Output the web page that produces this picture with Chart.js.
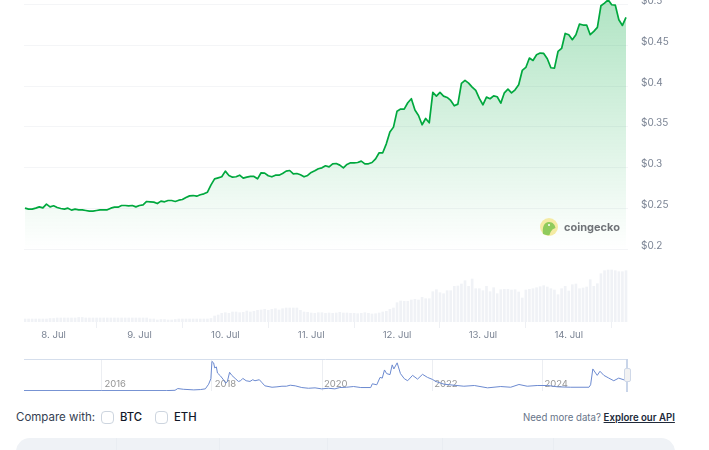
<!DOCTYPE html>
<html>
<head>
<meta charset="utf-8">
<script src="https://cdn.jsdelivr.net/npm/chart.js@4"></script>
<style>
html, body { margin: 0; padding: 0; background: #fff; }
body { width: 709px; height: 450px; overflow: hidden; position: relative; font-family: Inter, sans-serif; }
.box { position: absolute; }
#main-wrap { left: 0; top: -15px; width: 709px; height: 360px; }
#nav-wrap { left: 0; top: 355px; width: 709px; height: 40px; }
#logo { left: 540px; top: 218px; }
#logo-text { left: 564px; top: 219px; font-size: 11px; font-weight: 700; color: #6f7377; line-height: 16px; }
#nav-edge { left: 626px; top: 359px; width: 2px; height: 33px; background: #c9d5e9; }
#nav-handle { left: 624px; top: 368px; width: 5px; height: 12px; background: #f2f2f2; border: 1px solid #cfd8e8; border-radius: 2px; }
#compare { left: 16px; top: 410px; font-size: 11.5px; line-height: 15px; color: #364152; }
.check { top: 411px; width: 11px; height: 11px; border: 1px solid #cdd5df; border-radius: 4px; background: #fff; }
.coin { top: 410px; font-size: 11.3px; line-height: 15px; font-weight: 500; color: #111827; }
#more { left: 523px; top: 410px; font-size: 9.65px; line-height: 15px; color: #677489; white-space: nowrap; }
#more a { color: #202939; font-weight: 600; text-decoration: underline; }
#panel { left: 16px; top: 438px; width: 659px; height: 40px; background: #eff2f6; border-radius: 14px; }
.sep { position: absolute; top: 0; width: 1px; height: 40px; background: #e9edf2; }
</style>
</head>
<body>
<div class="box" id="main-wrap"><canvas id="price-chart"></canvas></div>
<div class="box" id="nav-wrap"><canvas id="nav-chart"></canvas></div>

<svg class="box" id="logo" width="18" height="18" viewBox="0 0 18 18">
    <circle cx="9" cy="9" r="9" fill="#f4eba3"/>
    <path d="M3 16 C2 9 4 4 9 4 C13 4 15 7 15.5 10 C12 11 11 13 9.5 17 C7 17.5 5 17 3 16 Z" fill="#8fcb5c"/>
    <circle cx="9" cy="7" r="1" fill="#fff"/>
</svg>
<div class="box" id="logo-text">coingecko</div>

<div class="box" id="nav-edge"></div>
<div class="box" id="nav-handle"></div>

<div class="box" id="compare">Compare with:</div>
<div class="box check" style="left:101px"></div>
<div class="box coin" style="left:120px">BTC</div>
<div class="box check" style="left:155px"></div>
<div class="box coin" style="left:174px">ETH</div>
<div class="box" id="more">Need more data? <a>Explore our API</a></div>

<div class="box" id="panel">
    <div class="sep" style="left:100px"></div>
    <div class="sep" style="left:203px"></div>
    <div class="sep" style="left:311px"></div>
    <div class="sep" style="left:426px"></div>
    <div class="sep" style="left:537px"></div>
</div>

<script>
// hourly price, starts 7 Jul 16:00
const prices = [
    .2504, .2492, .2492, .2504, .252, .2508, .2553, .252, .2533, .2512,
    .25, .2492, .2504, .248, .2492, .2484, .2484, .2475, .2467, .2467,
    .2475, .2484, .2484, .2484, .2504, .2516, .2516, .2537, .2537, .2533,
    .2537, .252, .2537, .2545, .2586, .2582, .2578, .2561, .259, .2582,
    .2598, .2598, .2586, .2602, .261, .2635, .2655, .2659, .2651, .2668,
    .268, .27, .279, .2864, .2876, .2889, .2958, .2905, .2884, .2889,
    .2909, .2872, .2884, .2893, .2893, .2864, .2938, .2934, .2901, .2889,
    .2909, .2909, .2929, .2958, .2966, .2925, .2929, .2913, .2889, .2905,
    .2942, .2962, .2987, .2999, .3024, .3011, .3048, .3052, .3032, .2999,
    .304, .306,
    .306, .3064, .3081, .3048, .3048, .3064, .3109, .3183, .3183, .3293,
    .3437, .3498, .3694, .3719, .3719, .3797, .3846, .3707, .3641, .3527,
    .3604, .3551, .3923, .3878, .3923, .3878, .3862, .3825, .376, .378,
    .4034, .4071, .4038, .3989, .3948, .385, .3772, .3866, .3846, .3882,
    .387, .3792, .3919, .3964, .3919, .3956, .4017, .4193, .423, .4345,
    .4316, .4385, .4406, .4402, .4336, .4226, .4222, .4426, .4463, .4647,
    .4631, .457, .4631, .4762, .475, .475, .4631, .4672, .4721, .4987,
    .5019, .506, .4999, .4995, .4815, .4745, .4844
];

// hourly volume
const volumes = [
    3, 3, 3, 3, 3, 3, 3, 3.5, 3.5, 4,
    4, 4, 4, 4, 4, 4.5, 4.5, 4, 4, 4,
    4, 4, 4, 4, 4, 4, 4, 4, 4, 4,
    4, 4, 4, 4, 4, 3, 3, 2, 2.5, 2.5,
    2, 2, 2.5, 3, 3, 3, 3, 3, 3, 3,
    3, 3, 3.5, 6, 7, 8.7,
    9.3, 8.7, 10, 10, 9.3, 9.7, 11, 10, 10.7, 11.7,
    12, 12.7, 11.7, 12.7, 13.3, 12, 13.3, 14, 14, 14,
    14, 11.7, 10, 9.7, 9, 8.7, 9.3, 9.3, 8.7, 9,
    8.7, 9, 9.7, 9, 9, 8.7, 8.7, 8.3, 8.7, 9.3,
    8.7, 8, 8.3, 9, 10, 10.7, 12.7, 14, 19.3, 21,
    20.7, 20.7, 22, 22.7, 22, 24.7,
    23.3, 23.3, 30.3, 32.3, 29.3, 28.3, 31.3, 31.3, 35.7, 36,
    38, 41.3, 35.7, 43, 33.3, 33.3, 31.3, 35.7, 30.3, 34.3,
    28.3, 32.3, 32.7, 32.7, 32, 32.3, 30, 24, 32, 32.7,
    33.3, 34.3, 35.3, 36.3, 35, 33.3, 32, 27.3, 33.3, 35.7,
    31, 37.3, 38, 33.3, 34, 35, 42.3, 35.7, 38.3, 48.3,
    51.3, 52, 52, 51.3, 50.3, 50.3, 51.3
];

const priceTicks = [.2, .25, .3, .35, .4, .45, .5];
const dayLabels = ['8. Jul', '9. Jul', '10. Jul', '11. Jul', '12. Jul', '13. Jul', '14. Jul'];
const dayHours = [8, 32, 56, 80, 104, 128, 152]; // hours after the first point

// navigator, whole history
const navYears = [
    2014.59, 2016, 2017.18, 2017.33, 2017.38, 2017.48, 2017.67, 2017.79, 2017.88, 2017.94,
    2017.98, 2018, 2018.03, 2018.05, 2018.08, 2018.10, 2018.15, 2018.20, 2018.25, 2018.28,
    2018.32, 2018.36, 2018.42, 2018.48, 2018.52, 2018.56, 2018.62, 2018.69, 2018.74, 2018.78,
    2018.86, 2018.90, 2018.96, 2019.09, 2019.18, 2019.27, 2019.35, 2019.42, 2019.51, 2019.63,
    2019.75, 2019.87, 2019.99, 2020.11, 2020.23, 2020.32, 2020.44, 2020.57,
    2020.70, 2020.88, 2020.91, 2020.99, 2021.05, 2021.09, 2021.13, 2021.17, 2021.23, 2021.27,
    2021.30, 2021.36, 2021.42, 2021.49, 2021.55, 2021.64, 2021.73, 2021.82, 2021.91, 2022,
    2022.06, 2022.21, 2022.39, 2022.57, 2022.76, 2023, 2023.24, 2023.42, 2023.57, 2023.72,
    2023.90, 2024.09, 2024.27, 2024.51, 2024.84, 2024.87, 2024.91, 2024.96, 2024.99, 2025.04,
    2025.11, 2025.20, 2025.29, 2025.38, 2025.49, 2025.53
];
const navValues = [
    0, 0, 0, .3, 2, 1.3, .7, 1, 1.7, 6.3,
    11.7, 28.7, 27.3, 22.3, 23.3, 17.3, 14.7, 11.3, 7.3, 9,
    18, 15, 12, 9, 9.7, 12, 9.7, 9, 10.7, 9.7,
    10.7, 8.3, 4.7, 3.3, 3.7, 4.3, 4.3, 5.3, 4.7, 3,
    2.3, 2.7, 1.7, 2.3, 1.7, 3, 3.3, 4,
    3, 3, 6.7, 5.7, 13, 12.3, 20.3, 16.7, 15.7, 25.3,
    21.3, 27.3, 16.7, 11.7, 9.7, 15, 11.3, 16, 13, 11,
    9, 6.3, 5.3, 4.3, 5, 2.7, 4, 3.3, 6, 4.3,
    5, 5, 3.7, 3.3, 3.3, 5.7, 21.3, 17.3, 15, 19,
    15, 12.3, 9.7, 12.3, 10.3, 10
];
const yearTicks = [2016, 2018, 2020, 2022, 2024];

function areaGradient(context) {
    const chart = context.chart;
    if (!chart.chartArea) return 'transparent';
    const g = chart.ctx.createLinearGradient(0, chart.chartArea.top + 15, 0, chart.scales.y.getPixelForValue(.2));
    g.addColorStop(0, 'rgba(0,168,62,0.31)');
    g.addColorStop(1, 'rgba(0,168,62,0)');
    return g;
}

// Price + volume
const ctxPrice = document.getElementById('price-chart').getContext('2d');
const priceChart = new Chart(ctxPrice, {
    data: {
        datasets: [{
            type: 'line',
            data: prices.map((p, i) => ({ x: i, y: p })),
            yAxisID: 'y',
            borderColor: '#00a83e',
            borderWidth: 1.7,
            borderJoinStyle: 'round',
            pointRadius: 0,
            tension: 0,
            fill: { value: .2 },
            backgroundColor: areaGradient,
            order: 1
        }, {
            type: 'bar',
            data: volumes.map((v, i) => ({ x: i, y: v })),
            yAxisID: 'y1',
            backgroundColor: '#f0f2f6',
            barThickness: 2,
            order: 2
        }]
    },
    options: {
        responsive: true,
        maintainAspectRatio: false,
        animation: false,
        layout: { padding: { left: 24, top: 0, right: 0, bottom: 0 } },
        plugins: { legend: { display: false }, tooltip: { enabled: false } },
        scales: {
            x: {
                type: 'linear',
                offset: false,
                min: -.28,
                max: 168.56,
                afterBuildTicks: s => { s.ticks = dayHours.map(h => ({ value: h })); },
                afterFit: s => { s.height = 23; s.paddingLeft = 0; s.paddingRight = 0; },
                border: { display: false },
                grid: { drawOnChartArea: false, color: '#eef0f4', tickLength: 6 },
                ticks: {
                    autoSkip: false,
                    maxRotation: 0,
                    padding: 1,
                    color: '#7b8494',
                    font: { family: 'Inter', size: 9.6 },
                    callback: v => dayLabels[dayHours.indexOf(v)]
                }
            },
            y: {
                position: 'right',
                min: .1108,
                max: .5241,
                afterBuildTicks: s => { s.ticks = priceTicks.map(v => ({ value: v })); },
                afterFit: s => { s.width = 81; s.paddingTop = 0; s.paddingBottom = 0; },
                border: { display: false },
                grid: { color: '#f4f5f7', drawTicks: false },
                ticks: {
                    padding: 13,
                    labelOffset: -3.6,
                    color: '#7b8494',
                    font: { family: 'Inter', size: 10 },
                    callback: v => '$' + v
                }
            },
            y1: { display: false, min: 0, max: 337 }
        }
    }
});

// Navigator
const ctxNav = document.getElementById('nav-chart').getContext('2d');
const navChart = new Chart(ctxNav, {
    type: 'line',
    data: {
        datasets: [{
            data: navYears.map((y, i) => ({ x: y, y: navValues[i] })),
            borderColor: '#6c8ad0',
            borderWidth: 1,
            pointRadius: 0,
            tension: 0,
            fill: false
        }]
    },
    options: {
        responsive: true,
        maintainAspectRatio: false,
        animation: false,
        layout: { padding: { left: 24, top: 4.5, right: 82, bottom: 0 } },
        plugins: { legend: { display: false }, tooltip: { enabled: false } },
        scales: {
            x: {
                type: 'linear',
                min: 2014.59,
                max: 2025.53,
                afterBuildTicks: s => { s.ticks = yearTicks.map(v => ({ value: v })); },
                afterFit: s => { s.height = 4; s.paddingLeft = 0; s.paddingRight = 0; },
                border: { display: false },
                grid: { color: '#eceef2', drawTicks: false },
                ticks: {
                    mirror: true,
                    autoSkip: false,
                    maxRotation: 0,
                    padding: 1,
                    labelOffset: 13.5,
                    color: '#949494',
                    font: { family: 'Inter', size: 9.5 },
                    callback: v => String(v)
                }
            },
            y: {
                display: true,
                min: -.4,
                max: 30.6,
                afterBuildTicks: s => { s.ticks = [{ value: 30.6 }]; },
                afterFit: s => { s.width = 0; s.paddingTop = 0; s.paddingBottom = 0; },
                border: { display: false },
                grid: { color: '#d5deec', drawTicks: false },
                ticks: { display: false }
            }
        }
    }
});
</script>
</body>
</html>
